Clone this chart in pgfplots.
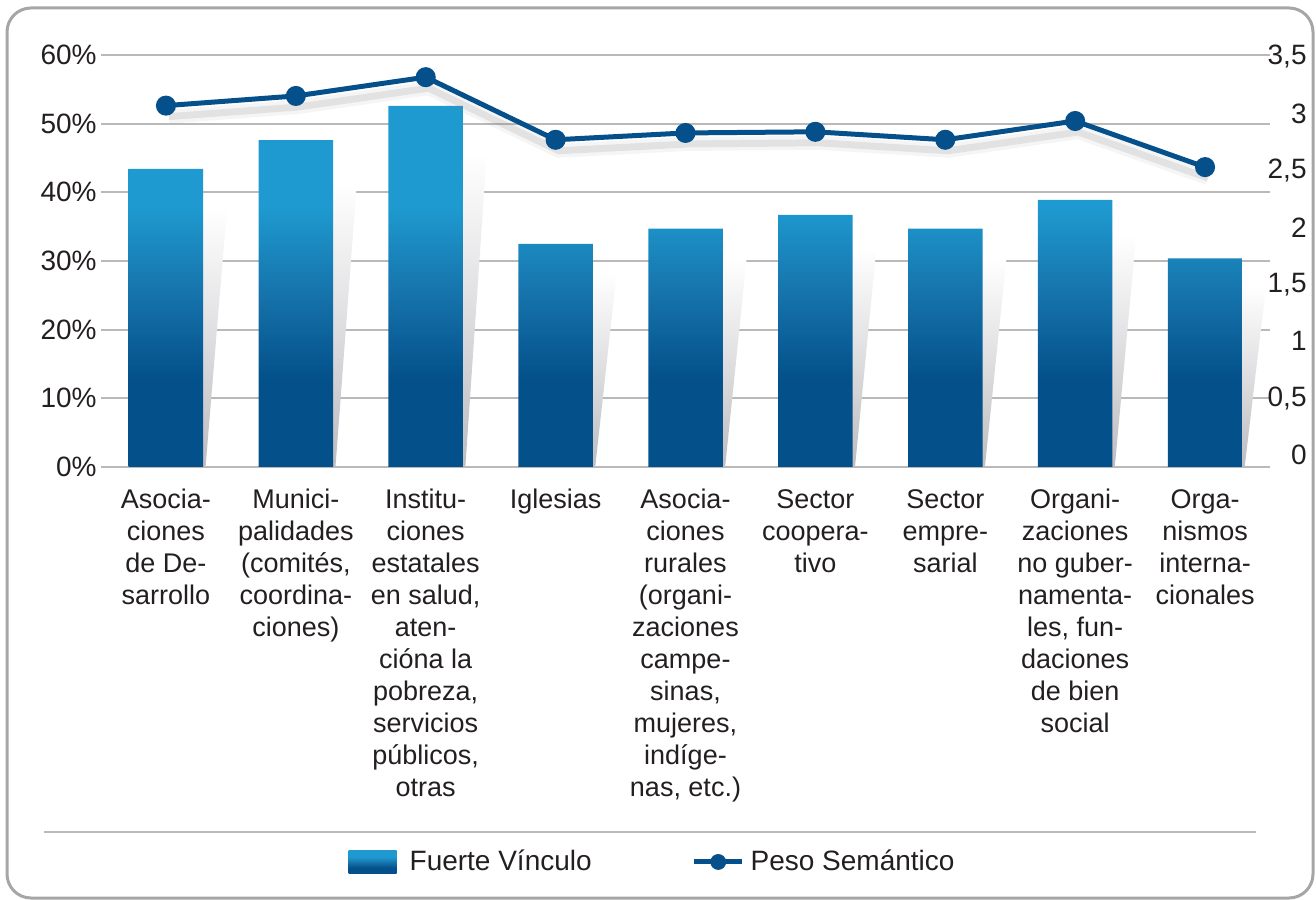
\documentclass[border=0pt]{standalone}
\usepackage{fontspec}
\setmainfont{Liberation Sans}
\usepackage{pgfplots}
\pgfplotsset{compat=1.18}
\usepackage{pgfplotstable}

\definecolor{blight}{HTML}{1E9AD0}
\definecolor{bmid}{HTML}{1673AB}
\definecolor{bdark}{HTML}{03508A}
\definecolor{linec}{HTML}{05508B}
\definecolor{gridc}{HTML}{B9B9B9}
\definecolor{framec}{HTML}{A6A6A6}
\definecolor{txt}{HTML}{231F20}
\definecolor{shgray}{HTML}{BDBDC2}

\pgfdeclareverticalshading{barshade}{100bp}{color(0bp)=(bdark); color(37bp)=(bdark); color(49bp)=(bmid); color(61bp)=(blight); color(100bp)=(blight)}
\pgfdeclareverticalshading{shadowshade}{100bp}{color(0bp)=(shgray); color(25bp)=(shgray); color(75bp)=(white); color(100bp)=(white)}

\pgfplotstableread{
x v w
0 43.4 3.07
1 47.6 3.155
2 52.6 3.32
3 32.5 2.77
4 34.7 2.83
5 36.7 2.84
6 34.7 2.77
7 38.9 2.935
8 30.4 2.53
}\data

\begin{document}
\begin{tikzpicture}
\path[use as bounding box] (0bp,0bp) rectangle (658bp,450bp);
\draw[framec, line width=1.5bp, rounded corners=12bp] (3.5bp,1bp) rectangle (656.5bp,446bp);
\draw[gridc, line width=1bp] (22bp,34bp) -- (628bp,34bp);

\begin{axis}[
  at={(50.5bp,216.5bp)}, anchor=south west,
  scale only axis, width=584.5bp, height=206bp,
  xmin=-0.5, xmax=8.5, ymin=0, ymax=60,
  axis x line*=bottom, axis y line*=left,
  axis line style={draw=none},
  major tick length=0pt,
  xtick={0,...,8},
  xticklabels={
    {Asocia-\\ciones\\de De-\\sarrollo},
    {Munici-\\palidades\\(comités,\\coordina-\\ciones)},
    {Institu-\\ciones\\estatales\\en salud,\\aten-\\cióna la\\pobreza,\\servicios\\públicos,\\otras},
    {Iglesias},
    {Asocia-\\ciones\\rurales\\(organi-\\zaciones\\campe-\\sinas,\\mujeres,\\indíge-\\nas, etc.)},
    {Sector\\coopera-\\tivo},
    {Sector\\empre-\\sarial},
    {Organi-\\zaciones\\no guber-\\namenta-\\les, fun-\\daciones\\de bien\\social},
    {Orga-\\nismos\\interna-\\cionales}},
  xticklabel style={align=center, anchor=north, inner sep=0pt, yshift=-11bp,
    font=\fontsize{13.5bp}{16bp}\selectfont, text=txt},
  ytick={0,10,20,30,40,50,60},
  yticklabel={\pgfmathprintnumber{\tick}\%},
  yticklabel style={anchor=east, inner sep=0pt, xshift=-2bp,
    font=\fontsize{14bp}{16bp}\selectfont, text=txt},
  /pgf/number format/assume math mode=true,
  ymajorgrids, major grid style={gridc, line width=1bp},
  legend style={at={(0.471,-0.9587)}, anchor=center, draw=none, fill=none,
    legend columns=2, font=\fontsize{14bp}{16bp}\selectfont, text=txt,
    /tikz/every even column/.append style={column sep=50bp},
    nodes={inner sep=0pt}},
  legend cell align=left,
]
\pgfplotsforeachungrouped \i in {0,...,8}{%
  \pgfplotstablegetelem{\i}{v}\of\data
  \pgfmathsetmacro\h{0.87*\pgfplotsretval}%
  \pgfmathsetmacro\xa{\i+0.287}%
  \pgfmathsetmacro\xb{\i+0.47}%
  \pgfmathsetmacro\xc{\i+0.305}%
  \edef\tmp{\noexpand\shade[shading=shadowshade] (axis cs:\xa,0) -- (axis cs:\xa,\h) -- (axis cs:\xb,\h) -- (axis cs:\xc,0) -- cycle;}%
  \tmp
}
\addplot[ybar, bar width=37.25bp, bar shift=0pt, draw=none, shading=barshade,
  legend image code/.code={\shade[shading=barshade] (0bp,-5.75bp) rectangle (24bp,5.75bp); \path (30.5bp,0bp);}]
  table[x=x, y=v]{\data};
\addlegendentry{Fuerte Vínculo}
\addlegendimage{legend image code/.code={\draw[linec, line width=2.5bp] (0bp,0bp) -- (24bp,0bp); \fill[linec] (12bp,0bp) circle (3.75bp); \path (28bp,0bp);}}
\addlegendentry{Peso Semántico}
\end{axis}

\begin{axis}[
  at={(50.5bp,216.5bp)}, anchor=south west,
  scale only axis, width=584.5bp, height=206bp,
  xmin=-0.5, xmax=8.5, ymin=-0.105, ymax=3.515,
  axis x line=none, axis y line*=right,
  axis line style={draw=none},
  major tick length=0pt,
  ytick={0,0.5,1,1.5,2,2.5,3,3.5},
  yticklabel style={anchor=east, inner sep=0pt, xshift=18.5bp,
    font=\fontsize{14bp}{16bp}\selectfont, text=txt},
  /pgf/number format/assume math mode=true,
  /pgf/number format/use comma,
  clip=false,
]
\addplot[gray, opacity=0.08, line width=7bp, yshift=-5.5bp, xshift=1.5bp] table[x=x, y=w]{\data};
\addplot[gray, opacity=0.16, line width=3.5bp, yshift=-5.5bp, xshift=1.5bp] table[x=x, y=w]{\data};
\addplot[linec, line width=2.5bp, mark=*, mark size=3.75bp, mark options={fill=linec, draw=linec}] table[x=x, y=w]{\data};
\end{axis}
\end{tikzpicture}
\end{document}
